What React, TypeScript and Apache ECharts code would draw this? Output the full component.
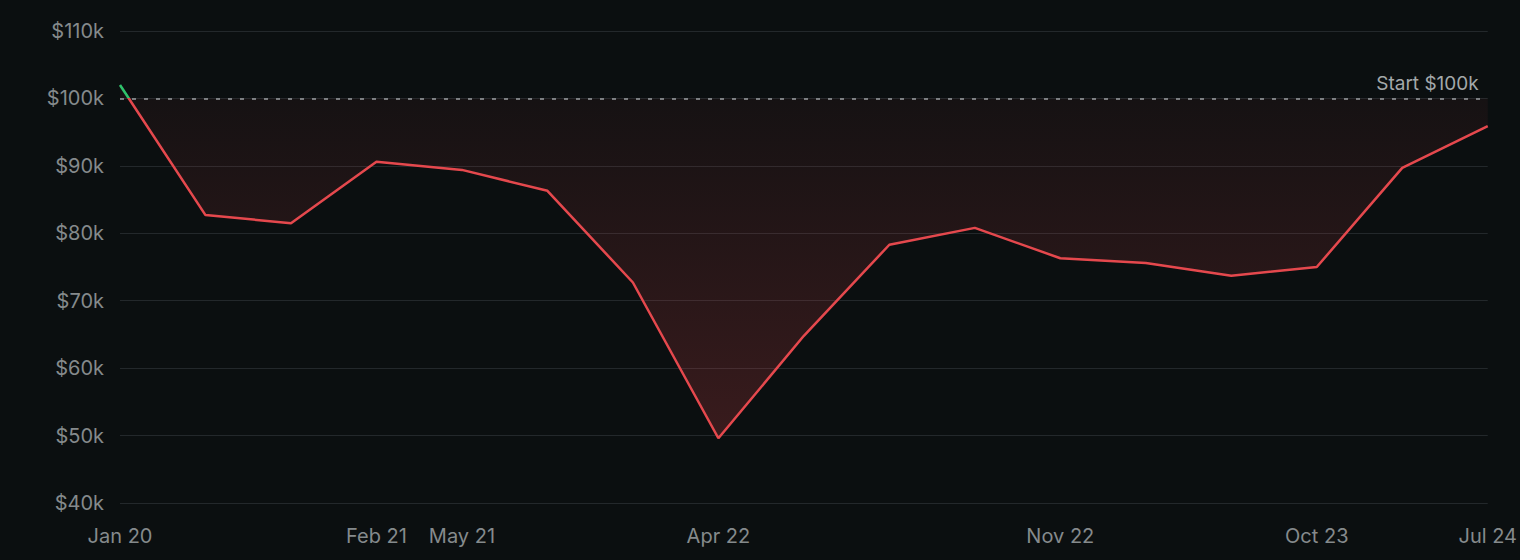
import React, { useEffect, useRef } from 'react';
import * as echarts from 'echarts';

const dates = [
    'Jan 20', 'May 20', 'Sep 20', 'Feb 21', 'May 21', 'Aug 21', 'Dec 21', 'Apr 22', 'Jun 22',
    'Aug 22', 'Sep 22', 'Nov 22', 'Mar 23', 'Jul 23', 'Oct 23', 'Mar 24', 'Jul 24',
];
const portfolio = [
    102000, 82700, 81500, 90600, 89400, 86300, 72700, 49600, 64800,
    78300, 80800, 76300, 75600, 73700, 75000, 89700, 95900,
];
const shownLabels = [0, 3, 4, 7, 11, 14, 16];
const startValue = 100000;

const FONT = 'Inter, "Noto Sans", sans-serif';

const App = () => {
    const chartRef = useRef(null);

    useEffect(() => {
        const myChart = echarts.init(chartRef.current, null, { renderer: 'svg' });

        myChart.setOption({
            animation: false,
            backgroundColor: '#0b0f10',
            textStyle: { fontFamily: FONT },
            grid: { left: 120, right: 32, top: 31, bottom: 57 },
            xAxis: {
                type: 'category',
                data: dates,
                boundaryGap: false,
                axisLine: { show: false },
                axisTick: { show: false },
                axisLabel: {
                    color: '#858a8c',
                    fontSize: 20,
                    margin: 23,
                    interval: (i: number) => shownLabels.includes(i),
                },
            },
            yAxis: {
                type: 'value',
                min: 40000,
                max: 110000,
                interval: 10000,
                axisLabel: {
                    color: '#858a8c',
                    fontSize: 20,
                    margin: 16,
                    formatter: (v: number) => '$' + v / 1000 + 'k',
                },
                splitLine: { lineStyle: { color: '#23282b', width: 1 } },
            },
            visualMap: {
                type: 'piecewise',
                show: false,
                seriesIndex: 0,
                dimension: 1,
                pieces: [
                    { gt: 0, lte: startValue, color: '#e5484d' },
                    { gt: startValue, lte: 200000, color: '#2fc26b' },
                ],
            },
            series: [
                {
                    type: 'line',
                    data: portfolio,
                    showSymbol: false,
                    lineStyle: { width: 2.5 },
                    areaStyle: {
                        origin: startValue,
                        color: new echarts.graphic.LinearGradient(0, 0, 0, 1, [
                            { offset: 0, color: 'rgba(229,72,77,0.06)' },
                            { offset: 1, color: 'rgba(229,72,77,0.3)' },
                        ]),
                    },
                    markLine: {
                        silent: true,
                        symbol: 'none',
                        data: [{ yAxis: startValue }],
                        lineStyle: { color: '#9a9fa1', type: [4, 8], width: 1.5 },
                        label: {
                            position: 'insideEndTop',
                            formatter: 'Start $100k',
                            color: '#a3a8aa',
                            fontSize: 19,
                            distance: [9, 5],
                        },
                    },
                },
            ],
        });

        return () => {
            myChart.dispose();
        };
    }, []);

    return (
        <div
            ref={chartRef}
            style={{ position: 'fixed', left: 0, top: 0, width: '1520px', height: '560px' }}
        />
    );
};

export default App;
